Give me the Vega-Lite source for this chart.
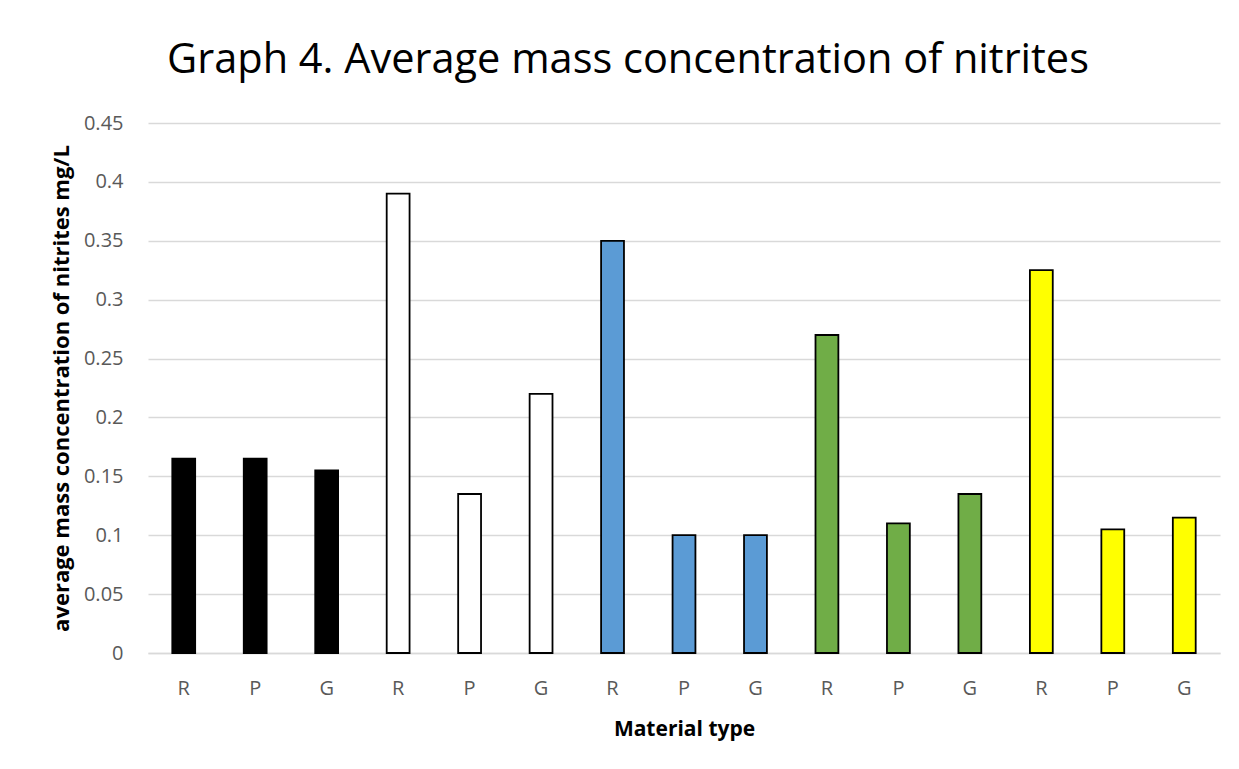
{
  "$schema": "https://vega.github.io/schema/vega-lite/v6.json",
  "width": 1072,
  "height": 530,
  "autosize": "none",
  "padding": {"left": 148, "top": 123, "right": 19, "bottom": 116},
  "background": "white",
  "title": {
    "text": "Graph 4. Average mass concentration of nitrites",
    "font": "Open Sans",
    "fontSize": 41.5,
    "fontWeight": "normal",
    "color": "#000000",
    "anchor": "middle",
    "dx": -56,
    "offset": 32
  },
  "data": {
    "values": [
      {"key": "1-R", "group": "g1", "value": 0.165},
      {"key": "2-P", "group": "g1", "value": 0.165},
      {"key": "3-G", "group": "g1", "value": 0.155},
      {"key": "4-R", "group": "g2", "value": 0.39},
      {"key": "5-P", "group": "g2", "value": 0.135},
      {"key": "6-G", "group": "g2", "value": 0.22},
      {"key": "7-R", "group": "g3", "value": 0.35},
      {"key": "8-P", "group": "g3", "value": 0.1},
      {"key": "9-G", "group": "g3", "value": 0.1},
      {"key": "10-R", "group": "g4", "value": 0.27},
      {"key": "11-P", "group": "g4", "value": 0.11},
      {"key": "12-G", "group": "g4", "value": 0.135},
      {"key": "13-R", "group": "g5", "value": 0.325},
      {"key": "14-P", "group": "g5", "value": 0.105},
      {"key": "15-G", "group": "g5", "value": 0.115}
    ]
  },
  "mark": {"type": "bar", "stroke": "#000000", "strokeWidth": 1.8},
  "encoding": {
    "x": {
      "field": "key",
      "type": "ordinal",
      "sort": null,
      "scale": {"paddingInner": 0.68, "paddingOuter": 0.34},
      "axis": {
        "title": "Material type",
        "labelExpr": "split(datum.label, '-')[1]",
        "labelAngle": 0,
        "labelFont": "Open Sans",
        "labelFontSize": 20,
        "labelColor": "#595959",
        "labelPadding": 25,
        "ticks": false,
        "domain": true,
        "domainColor": "#d9d9d9",
        "domainWidth": 1.5,
        "grid": false,
        "titleFont": "Open Sans",
        "titleFontSize": 21,
        "titleFontWeight": "bold",
        "titleColor": "#000000",
        "titlePadding": 20,
        "titleAnchor": "middle"
      }
    },
    "y": {
      "field": "value",
      "type": "quantitative",
      "scale": {"domain": [0, 0.45]},
      "axis": {
        "title": "average mass concentration of nitrites mg/L",
        "values": [0, 0.05, 0.1, 0.15, 0.2, 0.25, 0.3, 0.35, 0.4, 0.45],
        "labelExpr": "datum.value == 0 ? '0' : format(datum.value, '.2~f')",
        "labelFont": "Open Sans",
        "labelFontSize": 20,
        "labelColor": "#595959",
        "labelPadding": 25,
        "ticks": false,
        "domain": false,
        "grid": true,
        "gridColor": "#d9d9d9",
        "gridWidth": 1.5,
        "titleFont": "Open Sans",
        "titleFontSize": 22,
        "titleFontWeight": "bold",
        "titleColor": "#000000",
        "titlePadding": 10
      }
    },
    "fill": {
      "field": "group",
      "type": "nominal",
      "scale": {
        "domain": ["g1", "g2", "g3", "g4", "g5"],
        "range": ["#000000", "#ffffff", "#5b9bd5", "#70ad47", "#ffff00"]
      },
      "legend": null
    }
  },
  "config": {"view": {"stroke": null}}
}
